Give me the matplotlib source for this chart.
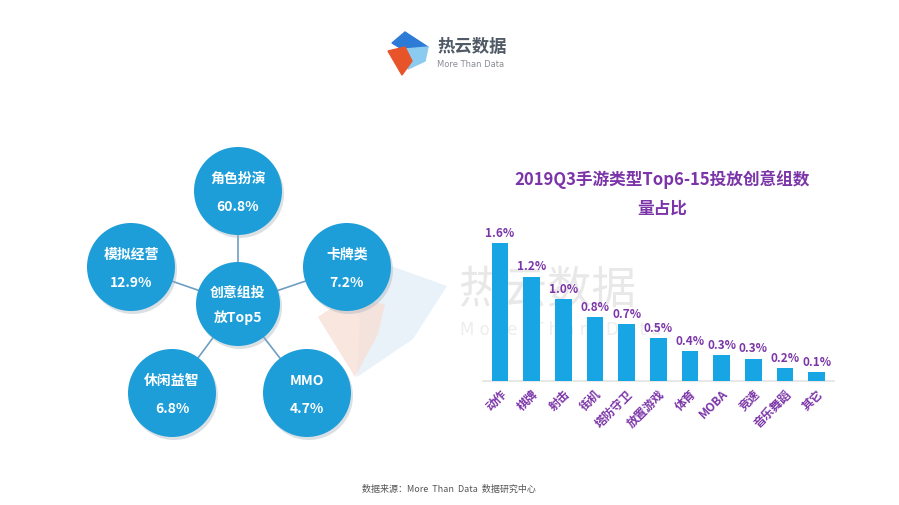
import matplotlib
matplotlib.use("Agg")
import matplotlib.pyplot as plt
from matplotlib.patches import Circle, Polygon

plt.rcParams['font.family'] = ['Noto Sans CJK SC', 'DejaVu Sans']

# ---- data ----
bar_categories = ["动作", "棋牌", "射击", "街机", "塔防守卫", "放置游戏", "体育", "MOBA", "竞速", "音乐舞蹈", "其它"]
bar_values = [1.60, 1.21, 0.95, 0.74, 0.66, 0.50, 0.35, 0.30, 0.26, 0.15, 0.10]
bar_labels = ["1.6%", "1.2%", "1.0%", "0.8%", "0.7%", "0.5%", "0.4%", "0.3%", "0.3%", "0.2%", "0.1%"]

top5_center = "创意组投\n放Top5"
top5_names = ["角色扮演", "卡牌类", "MMO", "休闲益智", "模拟经营"]
top5_values = ["60.8%", "7.2%", "4.7%", "6.8%", "12.9%"]

title = "2019Q3手游类型Top6-15投放创意组数\n量占比"
source = "数据来源：More  Than  Data  数据研究中心"

PURPLE = "#7B35A8"
BLUE = "#17A6E3"
CIRC = "#1E9ED9"

W, H = 899, 506
fig = plt.figure(figsize=(W / 100, H / 100), dpi=100)
fig.patch.set_facecolor("white")

bg = fig.add_axes([0, 0, 1, 1])
bg.set_xlim(0, W)
bg.set_ylim(H, 0)
bg.axis("off")

# ---- logo ----
bg.add_patch(Polygon([[392, 44], [405, 33], [428, 48], [415, 58]], closed=True, color="#2C7BD6", zorder=2))
bg.add_patch(Polygon([[405, 50], [428, 48], [425, 62], [408, 70]], closed=True, color="#8CCBF0", zorder=2))
bg.add_patch(Polygon([[388, 52], [405, 48], [412, 62], [402, 76], [395, 64]], closed=True, color="#E8542A", zorder=3))
bg.text(437, 47, "热云数据", fontsize=12.5, fontweight="bold", color="#505A66", va="center", ha="left")
bg.text(437, 64, "More Than Data", fontsize=6, color="#8A8F96", va="center", ha="left", family="DejaVu Sans")

# ---- watermark ----
bg.add_patch(Polygon([[345, 265], [377, 262], [447, 287], [413, 340], [357, 378], [360, 320]], closed=True,
                     color="#E4EEF8", alpha=0.8, zorder=0, lw=0))
bg.add_patch(Polygon([[318, 318], [345, 300], [385, 305], [378, 335], [355, 378]], closed=True,
                     color="#F8E0D6", alpha=0.8, zorder=0, lw=0))
bg.text(458, 290, "热云数据", fontsize=32, color="#E8E8E8", va="center", ha="left", zorder=0)
bg.text(460, 330, "M o r e   T h a n   D a t a", fontsize=12, color="#EDEDED", va="center", ha="left",
        family="DejaVu Sans", zorder=0)

# ---- bubble diagram ----
cx, cy, cr = 238, 305, 42
positions = [(238, 192), (347, 268), (307, 394), (172, 394), (131, 268)]
R = 44
for (x, y) in positions:
    bg.plot([cx, x], [cy, y], color="#6E9FC2", lw=1.2, zorder=1)
for (x, y), name, val in zip(positions, top5_names, top5_values):
    bg.add_patch(Circle((x + 2, y + 3), R, color="#9AA7B2", alpha=0.35, zorder=2, lw=0))
    bg.add_patch(Circle((x, y), R, color=CIRC, zorder=3, lw=0))
    bg.text(x, y - 13, name, fontsize=10, fontweight="bold", color="white", ha="center", va="center", zorder=4)
    bg.text(x, y + 15, val, fontsize=10, fontweight="bold", color="white", ha="center", va="center", zorder=4)
bg.add_patch(Circle((cx + 2, cy + 3), cr, color="#9AA7B2", alpha=0.35, zorder=2, lw=0))
bg.add_patch(Circle((cx, cy), cr, color=CIRC, zorder=3, lw=0))
bg.text(cx, cy, top5_center, fontsize=10, fontweight="bold", color="white", ha="center", va="center",
        linespacing=1.9, zorder=4)

# ---- title & footer ----
bg.text(662, 194, title, fontsize=12, fontweight="bold", color=PURPLE, ha="center", va="center", linespacing=1.75)
bg.text(449, 489, source, fontsize=6.5, color="#555555", ha="center", va="center")

# ---- bar chart ----
left_px, right_px = 482.6, 834
base_px, top_px = 382, 227
ax = fig.add_axes([left_px / W, (H - base_px) / H, (right_px - left_px) / W, (base_px - top_px) / H])
ax.patch.set_alpha(0)
x = list(range(len(bar_values)))
bars = ax.bar(x, bar_values, width=0.52, color=BLUE, zorder=3)
ax.set_xlim(-0.55, len(bar_values) - 0.45)
ax.set_ylim(0, 1.8)
for b, lab in zip(bars, bar_labels):
    ax.text(b.get_x() + b.get_width() / 2, b.get_height() + 0.05, lab, ha="center", va="bottom",
            fontsize=8.5, fontweight="bold", color=PURPLE)
for s in ["top", "right", "left"]:
    ax.spines[s].set_visible(False)
ax.spines["bottom"].set_color("#E3E3E3")
ax.spines["bottom"].set_linewidth(1.2)
ax.set_yticks([])
ax.set_xticks(x)
ax.set_xticklabels(bar_categories, rotation=45, ha="right", rotation_mode="anchor",
                   fontsize=8.5, fontweight="bold", color=PURPLE)
ax.tick_params(axis="x", length=0, pad=4)

fig.savefig("out.png", dpi=100, facecolor="white")
